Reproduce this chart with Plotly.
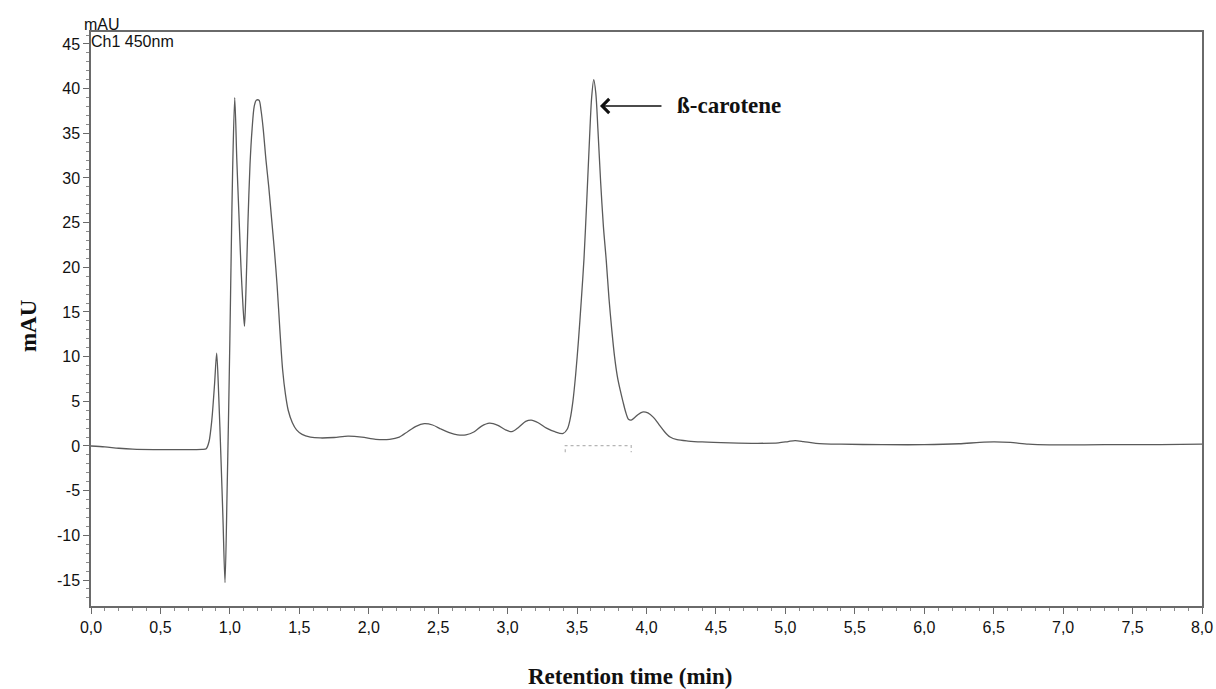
import plotly.graph_objects as go

# ---- data ----
time_min = [0.00, 0.10, 0.20, 0.30, 0.45, 0.60, 0.75, 0.80, 0.83, 0.85, 0.87,
            0.89, 0.905, 0.92, 0.935, 0.95, 0.965, 0.98, 0.99, 1.00, 1.01,
            1.02, 1.035, 1.05, 1.065, 1.08, 1.095, 1.105, 1.115, 1.13, 1.145,
            1.16, 1.175, 1.19, 1.21, 1.225, 1.24, 1.26, 1.28, 1.30, 1.32,
            1.34, 1.36, 1.38, 1.40, 1.42, 1.45, 1.48, 1.52, 1.58, 1.65,
            1.75, 1.85, 1.95, 2.05, 2.15, 2.22, 2.28, 2.34, 2.40, 2.46,
            2.52, 2.58, 2.64, 2.70, 2.76, 2.81, 2.87, 2.93, 2.98, 3.03,
            3.08, 3.13, 3.17, 3.22, 3.28, 3.34, 3.40, 3.43, 3.45, 3.47,
            3.49, 3.51, 3.53, 3.55, 3.57, 3.59, 3.605, 3.62, 3.635, 3.65,
            3.67, 3.69, 3.71, 3.73, 3.75, 3.77, 3.79, 3.81, 3.83, 3.85,
            3.87, 3.89, 3.93, 3.97, 4.01, 4.05, 4.09, 4.13, 4.17, 4.22,
            4.30, 4.40, 4.60, 4.80, 4.95, 5.02, 5.07, 5.13, 5.22, 5.40,
            5.70, 6.00, 6.25, 6.40, 6.50, 6.62, 6.75, 6.90, 7.30, 7.70, 8.00]
signal_mau = [0.0, -0.1, -0.25, -0.35, -0.4, -0.4, -0.4, -0.38, -0.3, 0.5, 2.9,
              7.0, 10.4, 5.5, -1.0, -8.0, -15.3, -5.0, 3.0, 12.0, 22.0,
              31.0, 39.0, 32.0, 26.0, 20.0, 15.5, 13.4, 17.0, 25.0, 31.5,
              35.5, 38.0, 38.7, 38.7, 37.5, 35.5, 32.0, 29.0, 25.5, 22.0,
              18.0, 13.0, 8.5, 5.8, 4.0, 2.6, 1.8, 1.3, 1.0, 0.9,
              0.95, 1.1, 1.0, 0.75, 0.75, 1.0, 1.6, 2.2, 2.5, 2.35,
              1.9, 1.5, 1.25, 1.25, 1.6, 2.2, 2.55, 2.3, 1.85, 1.6,
              2.1, 2.75, 2.9, 2.6, 2.0, 1.6, 1.4, 1.9, 3.0, 5.0,
              8.0, 11.8, 16.2, 21.0, 27.5, 34.5, 39.0, 41.0, 39.5, 35.5,
              29.5, 24.5, 20.8, 16.5, 13.0, 10.0, 7.8, 6.3, 5.0, 3.8,
              3.0, 2.9, 3.4, 3.8, 3.7, 3.2, 2.4, 1.6, 1.0, 0.7,
              0.55, 0.45, 0.35, 0.3, 0.35, 0.5, 0.6, 0.5, 0.3, 0.2,
              0.15, 0.15, 0.25, 0.4, 0.45, 0.4, 0.2, 0.12, 0.15, 0.15, 0.2]

# integration baseline of the beta-carotene peak
baseline_t = [3.415, 3.415, 3.89, 3.89]
baseline_y = [-0.7, 0.05, 0.05, -0.7]

x_tick_vals = [0.0, 0.5, 1.0, 1.5, 2.0, 2.5, 3.0, 3.5, 4.0, 4.5, 5.0, 5.5, 6.0, 6.5, 7.0, 7.5, 8.0]
x_tick_text = ["0,0", "0,5", "1,0", "1,5", "2,0", "2,5", "3,0", "3,5", "4,0",
               "4,5", "5,0", "5,5", "6,0", "6,5", "7,0", "7,5", "8,0"]
y_tick_vals = [-15, -10, -5, 0, 5, 10, 15, 20, 25, 30, 35, 40, 45]
y_tick_text = ["-15", "-10", "-5", "0", "5", "10", "15", "20", "25", "30", "35", "40", "45"]

peak_label = "ß-carotene"
peak_t, peak_y = 3.665, 38.06

fig = go.Figure()
fig.add_trace(go.Scatter(x=time_min, y=signal_mau, mode="lines",
                         line=dict(color="#5a5a5a", width=1.3, shape="spline", smoothing=0.8),
                         showlegend=False, hoverinfo="skip"))
fig.add_trace(go.Scatter(x=baseline_t, y=baseline_y, mode="lines",
                         line=dict(color="#b5b5b5", width=1.2, dash="dot"),
                         showlegend=False, hoverinfo="skip"))

tick_font = dict(family="Liberation Sans, Arial, sans-serif", size=16, color="#111111")
axis_common = dict(showline=True, linecolor="#6a6a6a", linewidth=1.5, mirror=True,
                   ticks="outside", ticklen=6, tickwidth=1, tickcolor="#6a6a6a",
                   showgrid=False, zeroline=False, tickfont=tick_font, automargin=False)

fig.update_xaxes(range=[0, 8], tickvals=x_tick_vals, ticktext=x_tick_text,
                 minor=dict(dtick=0.1, ticks="outside", ticklen=3, tickcolor="#8a8a8a"),
                 **axis_common)
fig.update_yaxes(range=[-17.91, 46.34], tickvals=y_tick_vals, ticktext=y_tick_text,
                 minor=dict(dtick=1, ticks="outside", ticklen=3, tickcolor="#8a8a8a"),
                 **axis_common)

serif_bold = dict(family="Liberation Serif, Times New Roman, serif", size=23, color="#111111")
sans = dict(family="Liberation Sans, Arial, sans-serif", size=16, color="#111111")
fig.update_layout(
    width=1216, height=689,
    margin=dict(l=91, r=14, t=32, b=83),
    paper_bgcolor="white", plot_bgcolor="white",
    annotations=[
        dict(x=peak_t, y=peak_y, xref="x", yref="y", text="", showarrow=True,
             ax=63, ay=0, arrowhead=4, arrowsize=1.7, arrowwidth=1.6, arrowcolor="#111111"),
        dict(x=4.205, y=peak_y, xref="x", yref="y", text="<b>" + peak_label + "</b>",
             showarrow=False, xanchor="left", yanchor="middle", font=serif_bold),
        dict(x=0.485, y=-0.122, xref="paper", yref="paper", text="<b>Retention time (min)</b>",
             showarrow=False, xanchor="center", yanchor="middle", font=serif_bold),
        dict(x=-0.056, y=0.489, xref="paper", yref="paper", text="<b>mAU</b>", textangle=-90,
             showarrow=False, xanchor="center", yanchor="middle", font=serif_bold),
        dict(x=-0.0085, y=1.0122, xref="paper", yref="paper", text="mAU",
             showarrow=False, xanchor="left", yanchor="middle", font=sans),
        dict(x=-0.0015, y=0.9826, xref="paper", yref="paper", text="Ch1 450nm",
             showarrow=False, xanchor="left", yanchor="middle", font=sans),
    ],
)

fig.write_html("out.html")
